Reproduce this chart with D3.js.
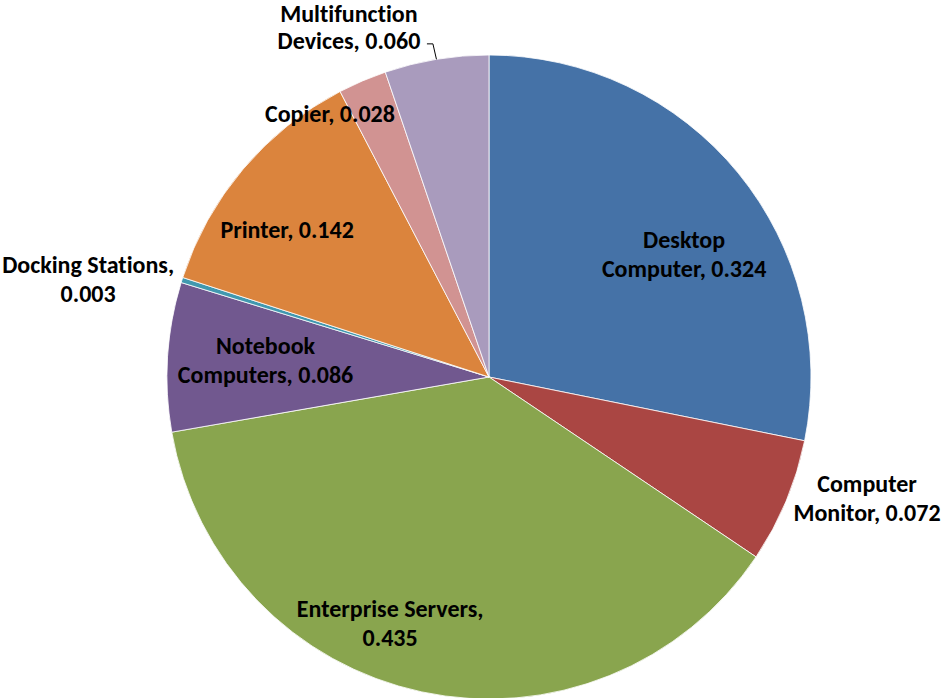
<!DOCTYPE html>
<html>
<head>
<meta charset="utf-8">
<script src="https://cdn.jsdelivr.net/npm/d3@7/dist/d3.min.js"></script>
<style>
  html, body { margin: 0; padding: 0; background: #fff; }
  svg { display: block; }
  .lbl { font-family: Carlito, Calibri, Lato, sans-serif; font-weight: bold; font-size: 24px; fill: #000; font-variant-ligatures: none; }
</style>
</head>
<body>
<svg id="chart" width="944" height="698"></svg>
<script>
// Product categories and their values
const categories = [
  "Desktop Computer",
  "Computer Monitor",
  "Enterprise Servers",
  "Notebook Computers",
  "Docking Stations",
  "Printer",
  "Copier",
  "Multifunction Devices"
];
const values = [0.324, 0.072, 0.435, 0.086, 0.003, 0.142, 0.028, 0.060];
const valueLabels = ["0.324", "0.072", "0.435", "0.086", "0.003", "0.142", "0.028", "0.060"];

// Label text lines per slice (category split as printed, value appended)
const labelLines = [
  ["Desktop", "Computer, " + valueLabels[0]],
  ["Computer", "Monitor, " + valueLabels[1]],
  ["Enterprise Servers,", valueLabels[2]],
  ["Notebook", "Computers, " + valueLabels[3]],
  ["Docking Stations,", valueLabels[4]],
  ["Printer, " + valueLabels[5]],
  ["Copier, " + valueLabels[6]],
  ["Multifunction", "Devices, " + valueLabels[7]]
];

const colors = ["#4572A7", "#AA4643", "#89A54E", "#71588F", "#4198AF", "#DB843D", "#D19392", "#A99BBD"];

// Label placement, relative to pie centre in radius units (x centre, first baseline)
const labelOffsets = [
  [0.606, -0.401],
  [1.174, 0.357],
  [-0.307, 0.745],
  [-0.694, -0.072],
  [-1.245, -0.323],
  [-0.627, -0.432],
  [-0.494, -0.792],
  [-0.435, -1.101]
];

const svg = d3.select("#chart");
const cx = 489, cy = 377, radius = 322;
const lineHeight = 29;

const g = svg.append("g").attr("transform", `translate(${cx},${cy})`);

const pie = d3.pie().sort(null).value(d => d.value);
const data = categories.map((c, i) => ({ name: c, value: values[i], color: colors[i], lines: labelLines[i], off: labelOffsets[i] }));
const arcs = pie(data);

const arc = d3.arc().innerRadius(0).outerRadius(radius);

g.selectAll("path.slice")
  .data(arcs)
  .join("path")
  .attr("class", "slice")
  .attr("d", arc)
  .attr("fill", d => d.data.color)
  .attr("stroke", "#ffffff")
  .attr("stroke-width", 0.8)
  .attr("stroke-linejoin", "round");

// Leader line for the small "Multifunction Devices" slice
const multi = arcs[7];
const mid = (multi.startAngle + multi.endAngle) / 2;
const edge = [radius * Math.sin(mid), -radius * Math.cos(mid)];
const lblEnd = [labelOffsets[7][0] * radius + 78, -radius * 1.106 + 29 - 6];
g.append("polyline")
  .attr("points", [lblEnd, [lblEnd[0] + 6, lblEnd[1]], edge].map(p => p.join(",")).join(" "))
  .attr("fill", "none")
  .attr("stroke", "#000")
  .attr("stroke-width", 1);

const labels = g.selectAll("text.lbl")
  .data(arcs)
  .join("text")
  .attr("class", "lbl")
  .attr("text-anchor", "middle")
  .attr("x", d => d.data.off[0] * radius)
  .attr("y", d => d.data.off[1] * radius);

labels.selectAll("tspan")
  .data(d => d.data.lines.map(t => ({ t, x: d.data.off[0] * radius })))
  .join("tspan")
  .attr("x", d => d.x)
  .attr("dy", (d, i) => i === 0 ? 0 : (i === 1 && d.t.startsWith("Devices") ? lineHeight - 2 : lineHeight))
  .text(d => d.t);
</script>
</body>
</html>
